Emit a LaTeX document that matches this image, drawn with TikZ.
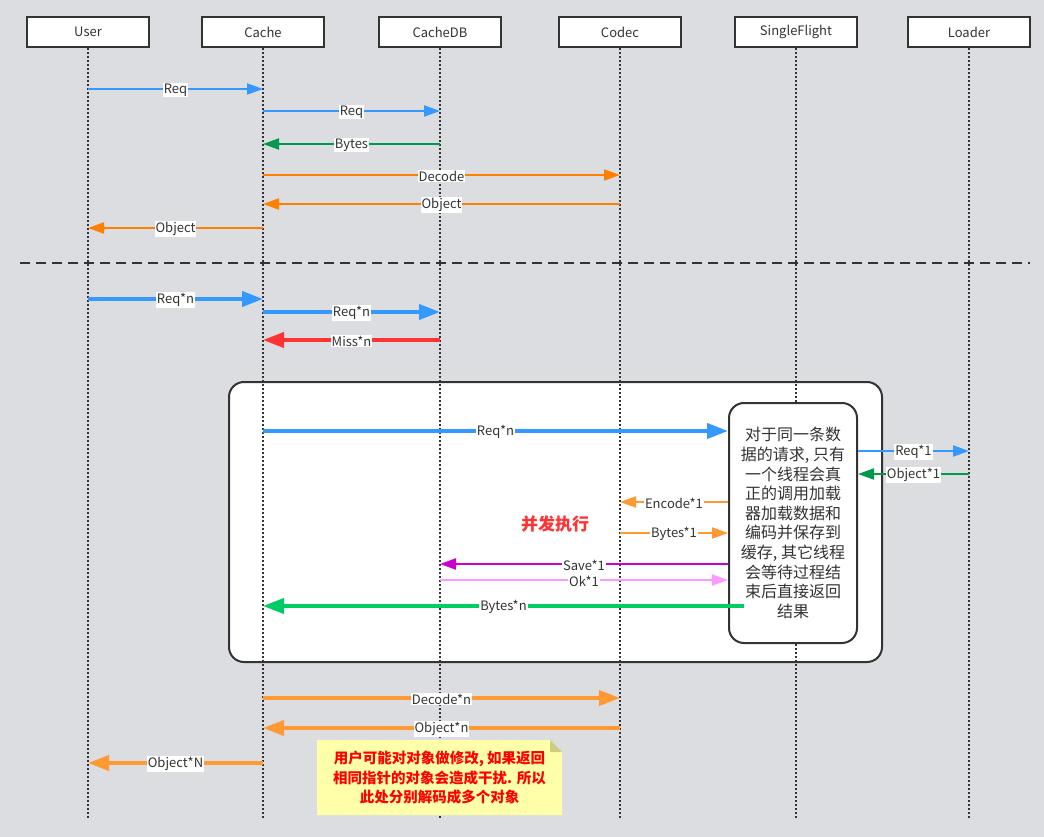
\documentclass[tikz,border=0pt]{standalone}
\usepackage{fontspec}
\setmainfont{Noto Sans CJK SC}
\usepackage{tikz}
\usetikzlibrary{arrows.meta}

\definecolor{Paper}{HTML}{DCDDE1}
\definecolor{Ink}{HTML}{333333}
\definecolor{Sky}{HTML}{3399FF}
\definecolor{Leaf}{HTML}{00994D}
\definecolor{Amber}{HTML}{FF8000}
\definecolor{Peach}{HTML}{FF9933}
\definecolor{Coral}{HTML}{FF3333}
\definecolor{Plum}{HTML}{CC00CC}
\definecolor{Pink}{HTML}{FF99FF}
\definecolor{Mint}{HTML}{00CC66}
\definecolor{Memo}{HTML}{FFFFAA}
\definecolor{MemoFold}{HTML}{CFCB82}

\begin{document}
\begin{tikzpicture}
    [font=\fontsize{13}{15}\selectfont, x=1pt, y=-1pt,
     head/.style={draw=Ink, line width=2pt, fill=white, text=Ink,
                  minimum width=122, minimum height=30, inner sep=0pt,
                  font=\fontsize{13}{15}\selectfont},
     life/.style={draw=Ink, line width=1.6pt, dash pattern=on 1.6pt off 2.4pt},
     slim/.style={line width=2pt, -{Triangle[length=16pt, width=11pt]}},
     fat/.style={line width=4pt, -{Triangle[length=21pt, width=15pt]}},
     lbl/.style={fill=white, text=Ink, inner sep=1pt, yshift=-1pt},
    ]
    % Paper
    \fill[Paper] (0, 0) rectangle (1044, 837);
    \useasboundingbox (0, 0) rectangle (1044, 837);

    % Separator
    \draw[Ink, line width=2pt, dash pattern=on 10pt off 6pt] (20, 263) -- (1030, 263);

    % Concurrent frame
    \draw[Ink, fill=white, line width=2pt, rounded corners=15pt]
        (229, 382) rectangle (882, 662);

    % Participants and lifelines
    \foreach \nm / \lab / \cx in
             {user/User/88, cache/Cache/263, cachedb/CacheDB/440,
              codec/Codec/620, sf/SingleFlight/796, loader/Loader/969} {
        \node[head] (\nm) at (\cx, 32) {\lab};
        \coordinate (\nm-end) at (\cx, 818);
        \draw[life] (\nm.south) -- (\nm-end);
    }

    % SingleFlight box
    \node[draw=Ink, fill=white, line width=2pt, rounded corners=15pt,
          minimum width=128, minimum height=240, align=center, text=Ink,
          font=\fontsize{16}{19.6}\selectfont] (sfbox) at (793, 523)
        {对于同一条数\\据的请求, 只有\\一个线程会真\\正的调用加载\\器加载数据和\\
         编码并保存到\\缓存, 其它线程\\会等待过程结\\束后直接返回\\结果};
    \coordinate (sfin) at ([xshift=16pt]sfbox.west);

    % Messages
    \foreach \a / \b / \y / \lab / \col / \w in
             {user/cache/89/Req/Sky/slim,
              cache/cachedb/111/Req/Sky/slim,
              cachedb/cache/144/Bytes/Leaf/slim,
              cache/codec/175/Decode/Amber/slim,
              codec/cache/204/Object/Amber/slim,
              cache/user/228/Object/Amber/slim,
              user/cache/299/Req*n/Sky/fat,
              cache/cachedb/312/Req*n/Sky/fat,
              cachedb/cache/340/Miss*n/Coral/fat,
              cache/sfbox.west/431/Req*n/Sky/fat,
              sfbox.east/loader/451/Req*1/Sky/slim,
              loader/sfbox.east/474/Object*1/Leaf/slim,
              sfbox.west/codec/502/Encode*1/Peach/slim,
              codec/sfbox.west/533/Bytes*1/Peach/slim,
              sfbox.west/cachedb/564/Save*1/Plum/slim,
              cachedb/sfbox.west/580/Ok*1/Pink/slim,
              sfin/cache/606/Bytes*n/Mint/fat,
              cache/codec/698/Decode*n/Peach/fat,
              codec/cache/728/Object*n/Peach/fat,
              cache/user/763/Object*N/Peach/fat} {
        \draw[\w, draw=\col, fill=\col] (\a |- 0, \y) --
            node[lbl, midway] {\lab} (\b |- 0, \y);
    }

    \node[text=Coral, font=\fontsize{17}{20}\selectfont\bfseries] (para)
        at (555, 524) {并发执行};

    % Note
    \fill[Memo] (317, 740) -- (550, 740) -- (562, 752) -- (562, 815) --
        (317, 815) -- cycle;
    \fill[MemoFold] (550, 740) -- (562, 752) -- (550, 752) -- cycle;
    \node[text=red, align=center, font=\fontsize{14.5}{19.5}\selectfont\bfseries]
        (note) at (439.5, 778)
        {用户可能对对象做修改, 如果返回\\相同指针的对象会造成干扰. 所以\\此处分别解码成多个对象};
\end{tikzpicture}
\end{document}
